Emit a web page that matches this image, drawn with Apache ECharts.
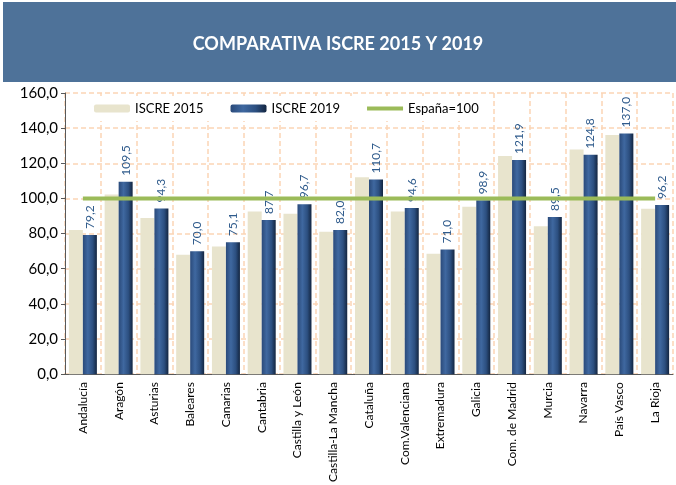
<!DOCTYPE html>
<html>
<head>
<meta charset="utf-8">
<script src="https://cdn.jsdelivr.net/npm/echarts@6/dist/echarts.min.js"></script>
<style>
  html, body { margin: 0; padding: 0; background: #fff; }
  #chart { width: 676px; height: 485px; }
</style>
</head>
<body>
<div id="chart"></div>
<script>
var regiones = ['Andalucía', 'Aragón', 'Asturias', 'Baleares', 'Canarias', 'Cantabria',
  'Castilla y León', 'Castilla-La Mancha', 'Cataluña', 'Com.Valenciana', 'Extremadura',
  'Galicia', 'Com. de Madrid', 'Murcia', 'Navarra', 'País Vasco', 'La Rioja'];
var iscre2015 = [82.1, 102.2, 88.9, 68.0, 72.6, 92.6, 91.3, 81.0, 112.0, 92.6, 68.5,
  95.2, 124.1, 84.1, 127.8, 136.1, 94.1];
var iscre2019 = [79.2, 109.5, 94.3, 70.0, 75.1, 87.7, 96.7, 82.0, 110.7, 94.6, 71.0,
  98.9, 121.9, 89.5, 124.8, 137.0, 96.2];
var espana = regiones.map(function () { return 100; });

var fmt = function (v) { return v.toFixed(1).replace('.', ','); };
var font = 'Lato, "Open Sans", sans-serif';

var chart = echarts.init(document.getElementById('chart'));
chart.setOption({
  animation: false,
  textStyle: { fontFamily: font },
  graphic: [{
    type: 'rect', z: -1,
    shape: { x: 3, y: 2, width: 673, height: 80 },
    style: { fill: '#4e7299' }
  }],
  title: {
    text: 'COMPARATIVA ISCRE 2015 Y 2019',
    left: 'center', top: 30,
    textStyle: { color: '#fff', fontSize: 18, fontWeight: 'bold', fontFamily: font }
  },
  legend: {
    left: 84, top: 96,
    padding: [6, 10],
    backgroundColor: '#fff',
    itemWidth: 36, itemHeight: 8, itemGap: 27,
    textStyle: { fontSize: 13, color: '#000' },
    data: ['ISCRE 2015', 'ISCRE 2019',
      { name: 'España=100', icon: 'path://M0,0H9V1H0Z' }]
  },
  grid: { left: 65, right: 3, top: 93, bottom: 103 },
  xAxis: {
    type: 'category',
    data: regiones,
    axisLine: { lineStyle: { color: '#595959' } },
    axisTick: { length: 5, lineStyle: { color: '#595959' } },
    axisLabel: { rotate: 90, interval: 0, fontSize: 12, color: '#000', margin: 8 },
    splitLine: { show: true, interval: 0, lineStyle: { color: '#fcd5b5', type: [5, 3], width: 1.5 } }
  },
  yAxis: {
    type: 'value', min: 0, max: 160, interval: 20,
    axisLine: { show: true, lineStyle: { color: '#595959' } },
    axisTick: { show: true, length: 4, lineStyle: { color: '#595959' } },
    axisLabel: { formatter: fmt, fontSize: 15, color: '#000', margin: 7 },
    splitLine: { lineStyle: { color: '#fcd5b5', type: [5, 3], width: 1.5 } }
  },
  series: [{
    name: 'ISCRE 2015',
    type: 'bar',
    data: iscre2015,
    barWidth: 14,
    barGap: '0%',
    itemStyle: { color: '#e8e4cd' }
  }, {
    name: 'ISCRE 2019',
    type: 'bar',
    data: iscre2019,
    barWidth: 14,
    itemStyle: {
      color: new echarts.graphic.LinearGradient(0, 0, 1, 0, [
        { offset: 0, color: '#2a4a7a' },
        { offset: 0.35, color: '#3f68a0' },
        { offset: 0.7, color: '#2c4f80' },
        { offset: 1, color: '#132540' }
      ])
    },
    label: {
      show: true, position: 'top', rotate: 90,
      align: 'left', verticalAlign: 'middle', distance: 6,
      fontSize: 12, color: '#2f5b8c',
      formatter: function (p) { return fmt(p.value); }
    }
  }, {
    name: 'España=100',
    type: 'line',
    data: espana,
    symbol: 'none',
    z: 5,
    itemStyle: { color: '#9bbb59' },
    lineStyle: { color: '#9bbb59', width: 4 }
  }]
});
</script>
</body>
</html>
